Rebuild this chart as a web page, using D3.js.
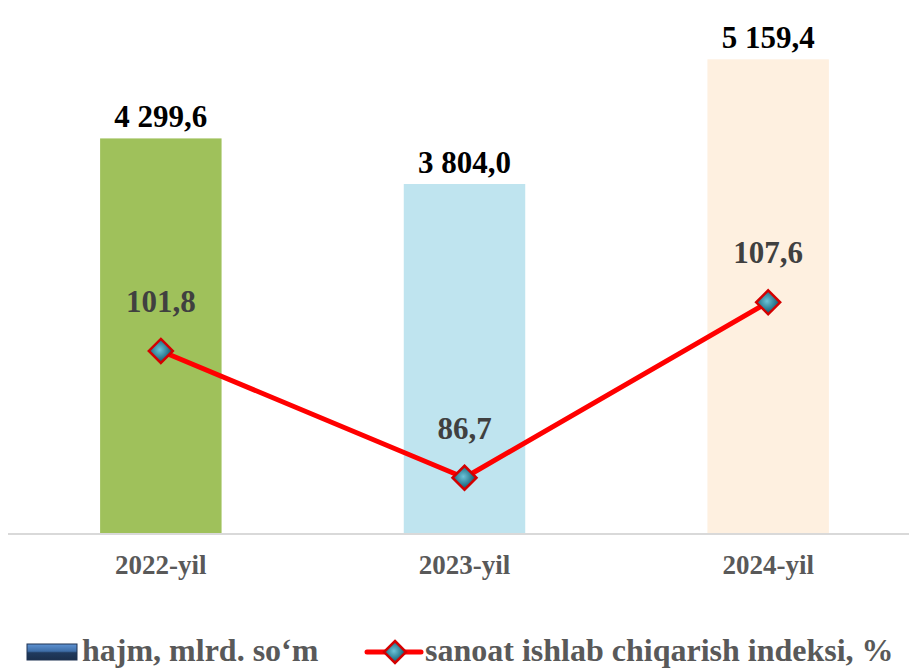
<!DOCTYPE html>
<html>
<head>
<meta charset="utf-8">
<script src="https://cdn.jsdelivr.net/npm/d3@7"></script>
</head>
<body style="margin:0; background:#fff">
<svg width="909" height="669" font-family="Liberation Serif" font-weight="bold"></svg>
<script>
// chart data
const years = ["2022-yil", "2023-yil", "2024-yil"]
const volume = [4299.6, 3804.0, 5159.4]          // hajm, mlrd. so'm
const index_pct = [101.8, 86.7, 107.6]           // sanoat ishlab chiqarish indeksi, %
const bar_colors = ["#9fc15b", "#bfe4ef", "#fef0e0"]
const legend_names = ["hajm, mlrd. so‘m", "sanoat ishlab chiqarish indeksi, %"]

const fmt = v => d3.format(",.1f")(v).replace(/,/g, " ").replace(".", ",")

const svg = d3.select("svg")
const base = 534

let x = d3.scaleBand().domain(years).range([9, 920]).paddingInner(0.6).paddingOuter(0.3)
let y = d3.scaleLinear().domain([0, 5804]).range([base, 0])
let y2 = d3.scaleLinear().domain([80, 143.6]).range([base, 0])

// gradients
let defs = svg.append("defs")
let rg = defs.append("radialGradient").attr("id", "gem").attr("cx", "45%").attr("cy", "45%").attr("r", "60%")
rg.append("stop").attr("offset", "0%").attr("stop-color", "#6cc3d8")
rg.append("stop").attr("offset", "55%").attr("stop-color", "#2f7f95")
rg.append("stop").attr("offset", "100%").attr("stop-color", "#163f4c")
let lg = defs.append("linearGradient").attr("id", "blu").attr("x1", 0).attr("y1", 0).attr("x2", 0).attr("y2", 1)
lg.append("stop").attr("offset", "0%").attr("stop-color", "#5f93d3")
lg.append("stop").attr("offset", "45%").attr("stop-color", "#3e6ea8")
lg.append("stop").attr("offset", "55%").attr("stop-color", "#203a5e")
lg.append("stop").attr("offset", "100%").attr("stop-color", "#1a2f4d")

// bars
svg.selectAll("rect.bar")
  .data(years)
  .join("rect")
  .attr("class", "bar")
  .attr("x", d => x(d))
  .attr("width", x.bandwidth())
  .attr("y", (d, i) => y(volume[i]))
  .attr("height", (d, i) => base - y(volume[i]))
  .attr("fill", (d, i) => bar_colors[i])

// axis line
svg.append("line")
  .attr("x1", 8).attr("x2", 909)
  .attr("y1", base).attr("y2", base)
  .attr("stroke", "#d9d9d9").attr("stroke-width", 2)

// category labels
svg.selectAll("text.cat")
  .data(years)
  .join("text")
  .attr("class", "cat")
  .attr("x", d => x(d) + x.bandwidth() / 2)
  .attr("y", 574)
  .attr("text-anchor", "middle")
  .attr("font-size", 27)
  .attr("fill", "#595959")
  .text(d => d)

// bar value labels
svg.selectAll("text.val")
  .data(years)
  .join("text")
  .attr("class", "val")
  .attr("x", d => x(d) + x.bandwidth() / 2)
  .attr("y", (d, i) => y(volume[i]) - 11)
  .attr("text-anchor", "middle")
  .attr("font-size", 31)
  .attr("fill", "#000")
  .text((d, i) => fmt(volume[i]))

// index line
let cx = d => x(d) + x.bandwidth() / 2
let line = d3.line().x((d, i) => cx(years[i])).y(d => y2(d))
svg.append("path")
  .datum(index_pct)
  .attr("d", line)
  .attr("fill", "none")
  .attr("stroke", "#ff0000")
  .attr("stroke-width", 5)
  .attr("stroke-linejoin", "round")

function diamond(g, r) {
  g.append("path")
    .attr("d", `M0,${-r}L${r},0L0,${r}L${-r},0Z`)
    .attr("fill", "url(#gem)")
    .attr("stroke", "#d40000")
    .attr("stroke-width", 2.5)
}

svg.selectAll("g.mark")
  .data(index_pct)
  .join("g")
  .attr("class", "mark")
  .attr("transform", (d, i) => `translate(${cx(years[i])},${y2(d)})`)
  .each(function () { diamond(d3.select(this), 12) })

svg.selectAll("text.idx")
  .data(index_pct)
  .join("text")
  .attr("class", "idx")
  .attr("x", (d, i) => cx(years[i]))
  .attr("y", d => y2(d) - 39)
  .attr("text-anchor", "middle")
  .attr("font-size", 31)
  .attr("fill", "#404040")
  .text(d => d.toFixed(1).replace(".", ","))

// legend
let leg = svg.append("g")
leg.append("rect")
  .attr("x", 27).attr("y", 644).attr("width", 50).attr("height", 16)
  .attr("fill", "url(#blu)").attr("stroke", "#1f3353").attr("stroke-width", 1)
leg.append("text")
  .attr("x", 82).attr("y", 661)
  .attr("font-size", 32).attr("fill", "#595959")
  .text(legend_names[0])
leg.append("line")
  .attr("x1", 367).attr("x2", 421).attr("y1", 652).attr("y2", 652)
  .attr("stroke", "#ff0000").attr("stroke-width", 5).attr("stroke-linecap", "round")
let lm = leg.append("g").attr("transform", "translate(395,652)")
diamond(lm, 11)
leg.append("text")
  .attr("x", 425).attr("y", 661)
  .attr("font-size", 32).attr("fill", "#595959")
  .text(legend_names[1])
</script>
</body>
</html>
